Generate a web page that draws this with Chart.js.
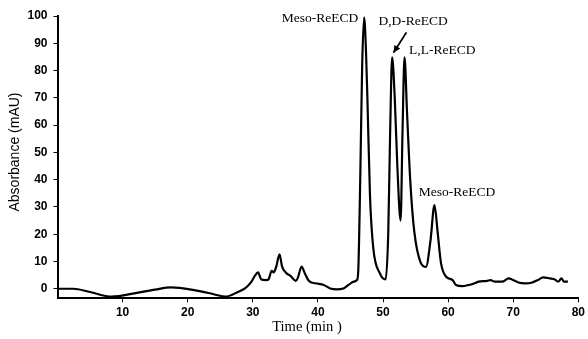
<!DOCTYPE html>
<html>
<head>
<meta charset="utf-8">
<script src="https://cdn.jsdelivr.net/npm/chart.js@4.4.1/dist/chart.umd.min.js"></script>
<style>
  html, body { margin: 0; padding: 0; background: #fff; }
  #wrap { width: 588px; height: 339px; }
</style>
</head>
<body>
<div id="wrap"><canvas id="myChart" width="588" height="339"></canvas></div>
<script>
// retention time (min) and absorbance (mAU)
const times = [0, 2.4, 5, 8.3, 12, 15, 17.5, 21, 24, 25.8, 27.7, 28.8, 29.8, 30.3, 30.8, 31.3, 32.0, 32.4, 32.9, 33.2, 33.6, 34.1, 34.5, 35.1, 35.8, 36.6, 36.9, 37.5, 38.0, 38.6, 39.6, 40.9, 41.9, 42.9, 43.9, 44.7, 45.5, 46.0, 46.2, 46.5, 46.8, 47.1, 47.4, 47.6, 48.0, 48.5, 49.5, 50.4, 50.8, 51.1, 51.4, 51.8, 52.2, 52.7, 53.0, 53.3, 53.7, 54.2, 54.8, 55.8, 56.6, 57.3, 57.9, 58.4, 58.9, 59.7, 60.7, 61.2, 62.2, 63.7, 64.7, 66.0, 66.5, 67.2, 68.3, 69.3, 69.8, 70.8, 71.8, 72.8, 73.8, 74.6, 75.6, 76.4, 76.9, 77.4, 77.8, 78.4]
const absorbance = [0, 0, -1.2, -2.9, -1.6, -0.3, 0.5, -0.5, -2, -2.9, -1.2, 0.1, 2.6, 4.7, 6.0, 3.4, 3.2, 3.4, 6.6, 6.0, 8.1, 12.6, 8.1, 5.9, 4.7, 2.9, 3.9, 8.1, 5.6, 2.9, 2.0, 1.4, 0.1, -0.2, 0.1, 1.4, 2.6, 3.2, 6.8, 40, 82, 99.5, 86, 70, 34, 15, 5.7, 3.4, 20, 58, 84.8, 70, 45, 25, 58, 84.8, 64, 39, 21, 9.5, 8, 17.8, 30.7, 20.5, 9.5, 4.4, 3.2, 1.4, 1.0, 1.7, 2.6, 2.9, 3.2, 2.6, 2.6, 3.8, 3.4, 2.3, 2.0, 2.2, 3.2, 4.2, 3.8, 3.4, 2.6, 3.8, 2.6, 2.6]
const xTicks = [10, 20, 30, 40, 50, 60, 70, 80]
const yTicks = [0, 10, 20, 30, 40, 50, 60, 70, 80, 90, 100]
const peakLabels = [
  { text: 'Meso-ReECD', t: 46.2, v: 99, align: 'right' },
  { text: 'D,D-ReECD', t: 49.3, v: 98, align: 'left' },
  { text: 'L,L-ReECD', t: 54.0, v: 87.5, align: 'left' },
  { text: 'Meso-ReECD', t: 55.5, v: 35.4, align: 'left' }
]

let points = times.map((t, i) => ({ x: t, y: absorbance[i] }))

const annotate = {
  id: 'annotate',
  afterDraw(chart) {
    const c = chart.ctx, xs = chart.scales.x, ys = chart.scales.y
    c.save()
    c.fillStyle = '#000'
    c.textBaseline = 'middle'
    c.font = '13.5px "Liberation Serif"'
    peakLabels.forEach(l => {
      c.textAlign = l.align
      c.fillText(l.text, xs.getPixelForValue(l.t), ys.getPixelForValue(l.v))
    })
    // arrow to the D,D peak
    let x0 = xs.getPixelForValue(53.6), y0 = ys.getPixelForValue(94)
    let x1 = xs.getPixelForValue(51.6), y1 = ys.getPixelForValue(86.5)
    c.strokeStyle = '#000'
    c.lineWidth = 1.8
    c.beginPath(); c.moveTo(x0, y0); c.lineTo(x1, y1); c.stroke()
    let a = Math.atan2(y1 - y0, x1 - x0)
    c.beginPath()
    c.moveTo(x1, y1)
    c.lineTo(x1 - 8 * Math.cos(a - 0.45), y1 - 8 * Math.sin(a - 0.45))
    c.lineTo(x1 - 8 * Math.cos(a + 0.45), y1 - 8 * Math.sin(a + 0.45))
    c.closePath(); c.fill()
    // axis titles
    c.textAlign = 'center'
    c.font = '14.5px "Liberation Serif"'
    c.fillText('Time (min )', 307, 327)
    c.translate(15, 152)
    c.rotate(-Math.PI / 2)
    c.font = '14px "Liberation Sans"'
    c.fillText('Absorbance (mAU)', 0, 0)
    c.restore()
  }
}

let ctx = document.getElementById('myChart').getContext('2d')
let chart = new Chart(ctx, {
  type: 'line',
  data: {
    datasets: [{
      data: points,
      borderColor: '#000',
      borderWidth: 2.2,
      pointRadius: 0,
      fill: false,
      cubicInterpolationMode: 'monotone'
    }]
  },
  options: {
    responsive: false,
    animation: false,
    events: [],
    layout: { padding: { top: 16, right: 8, left: 0, bottom: 0 } },
    plugins: { legend: { display: false }, tooltip: { enabled: false } },
    scales: {
      x: {
        type: 'linear', min: 0, max: 80,
        afterFit: (s) => { s.height = 40.7 },
        afterBuildTicks: (s) => { s.ticks = xTicks.map(v => ({ value: v })) },
        grid: { display: true, drawOnChartArea: false, drawTicks: true, tickLength: 4, color: '#000' },
        border: { display: true, color: '#000', width: 2 },
        ticks: { color: '#000', padding: 3, maxRotation: 0, font: { family: 'Liberation Sans', size: 12, weight: 'bold' } }
      },
      y: {
        min: -3.5, max: 100,
        afterFit: (s) => { s.width = 57.5 },
        afterBuildTicks: (s) => { s.ticks = yTicks.map(v => ({ value: v })) },
        grid: { display: true, drawOnChartArea: false, drawTicks: true, tickLength: 4, color: '#000' },
        border: { display: true, color: '#000', width: 2 },
        ticks: { color: '#000', padding: 6, font: { family: 'Liberation Sans', size: 12, weight: 'bold' } }
      }
    }
  },
  plugins: [annotate]
})
</script>
</body>
</html>
